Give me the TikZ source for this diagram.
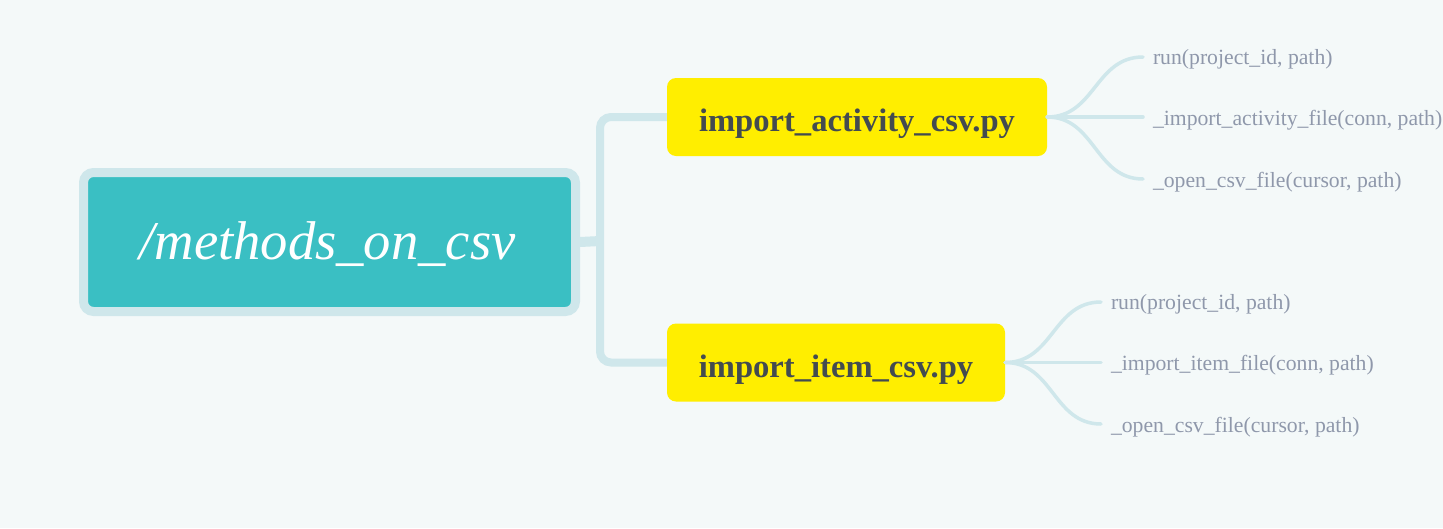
\documentclass[tikz,border=0pt]{standalone}
\usepackage{fontspec}
\setmainfont{Liberation Serif}
\definecolor{bg}{HTML}{F4F9F9}
\definecolor{teal}{HTML}{3ABFC3}
\definecolor{edge}{HTML}{CFE7EB}
\definecolor{ylw}{HTML}{FFEE00}
\definecolor{dark}{HTML}{434B50}
\definecolor{leafc}{HTML}{8F98AB}
\newcommand{\lowerby}[2]{\raisebox{-#1}[\height][\depth]{#2}}
\begin{document}
\begin{tikzpicture}[x=1pt,y=-1pt,
  rootbox/.style={draw=edge,line width=9pt,fill=teal,rounded corners=10pt,minimum width=492pt,minimum height=139pt,inner sep=0pt,text=white,font=\fontsize{54.6}{60}\selectfont\itshape},
  filebox/.style={fill=ylw,rounded corners=9pt,minimum height=78pt,inner sep=0pt,text=dark,font=\fontsize{32.6}{36}\selectfont\bfseries},
  leaf/.style={anchor=west,inner sep=0pt,outer sep=0pt,text=leafc,font=\fontsize{21.7}{24}\selectfont},
  trunk/.style={draw=edge,line width=8pt,rounded corners=11pt},
  twig/.style={draw=edge,line width=3.5pt,line cap=round}]
\fill[bg] (0,0) rectangle (1443,528);
\useasboundingbox (0,0) rectangle (1443,528);

\node[rootbox] (root) at (329.5,242) {\lowerby{2pt}{/methods\_on\_csv\kern4pt}};
\node[filebox,minimum width=380pt] (b1) at (857,117) {\lowerby{7pt}{import\_activity\_csv.py}};
\node[filebox,minimum width=338pt] (b2) at (836,362.5) {\lowerby{7.5pt}{import\_item\_csv.py}};

\coordinate (j) at (600,241);
\draw[trunk] (b1.west) -| (j) |- (b2.west);
\draw[draw=edge,line width=10pt] (root.east) -- (j);

\node[leaf] (a1) at (1153,59.5) {run(project\_id, path)};
\node[leaf] (a2) at (1153,120.5) {\_import\_activity\_file(conn, path)};
\node[leaf] (a3) at (1153,182.5) {\_open\_csv\_file(cursor, path)};
\node[leaf] (c1) at (1111,304.5) {run(project\_id, path)};
\node[leaf] (c2) at (1111,365.5) {\_import\_item\_file(conn, path)};
\node[leaf] (c3) at (1111,427.5) {\_open\_csv\_file(cursor, path)};

\coordinate (a1e) at (1143,57);
\coordinate (a2e) at (1143,117);
\coordinate (a3e) at (1143,179);
\coordinate (c1e) at (1101,302);
\coordinate (c2e) at (1101,362.5);
\coordinate (c3e) at (1101,424);

\draw[twig] (b1.east) .. controls +(48,0) and +(-48,0) .. (a1e);
\draw[twig] (b1.east) -- (a2e);
\draw[twig] (b1.east) .. controls +(48,0) and +(-48,0) .. (a3e);
\draw[twig] (b2.east) .. controls +(48,0) and +(-48,0) .. (c1e);
\draw[twig] (b2.east) -- (c2e);
\draw[twig] (b2.east) .. controls +(48,0) and +(-48,0) .. (c3e);
\end{tikzpicture}
\end{document}
